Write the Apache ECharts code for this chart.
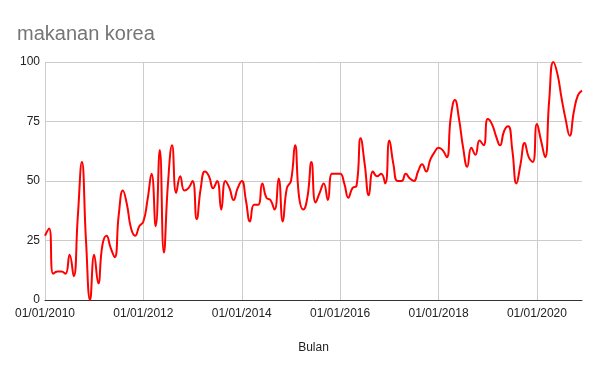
<!DOCTYPE html>
<html>
<head>
<meta charset="utf-8">
<script src="https://cdn.jsdelivr.net/npm/echarts@6/dist/echarts.min.js"></script>
<style>html,body{margin:0;padding:0;background:#fff}#c{width:600px;height:371px}</style>
</head>
<body>
<div id="c"></div>
<script>
const startYear = 2010;
const monthCount = 132;
const months = [];
for (let i = 0; i < monthCount; i++) {
  const y = startYear + Math.floor(i / 12);
  const m = String(i % 12 + 1).padStart(2, '0');
  months.push('01/' + m + '/' + y);
}
const values = [
  27, 30, 11, 12, 12, 11, 19, 10, 35, 58, 25, 0,
  19, 7, 23, 27, 22, 18, 36, 46, 40, 30, 27, 31,
  33, 42, 53, 31, 63, 20, 49, 65, 45, 52, 46, 47,
  50, 34, 47, 54, 52, 47, 50, 38, 50, 47, 42, 47,
  50, 42, 33, 40, 40, 49, 43, 42, 38, 51, 33, 47,
  50, 65, 43, 38, 43, 58, 41, 45, 49, 42, 53, 53,
  53, 49, 43, 47, 48, 68, 57, 44, 54, 52, 53, 49,
  67, 57, 50, 50, 53, 51, 50, 54, 57, 54, 59, 62,
  64, 63, 60, 77, 84, 76, 64, 56, 64, 61, 67, 65,
  76, 74, 69, 65, 71, 73, 63, 49, 57, 66, 60, 58,
  74, 67, 60, 84, 100, 95, 85, 76, 69, 79, 86, 88
];
const yTicks = [0, 25, 50, 75, 100];
const labelStep = 24;

const chart = echarts.init(document.getElementById('c'), null, {renderer: 'canvas'});
chart.setOption({
  animation: false,
  backgroundColor: '#ffffff',
  title: {
    text: 'makanan korea',
    left: 12, top: 19,
    textStyle: {fontFamily: 'Liberation Sans, Arial', fontSize: 20, fontWeight: 'normal', color: '#757575'}
  },
  grid: {left: 45, right: 18, top: 62, bottom: 71, containLabel: false},
  xAxis: {
    type: 'category',
    data: months,
    boundaryGap: false,
    name: 'Bulan',
    nameLocation: 'middle',
    nameGap: 42,
    nameTextStyle: {fontFamily: 'Liberation Sans, Arial', fontSize: 12, color: '#222'},
    axisLine: {lineStyle: {color: '#333', width: 1}},
    axisTick: {show: false},
    axisLabel: {
      interval: (i) => i % labelStep === 0,
      fontFamily: 'Liberation Sans, Arial', fontSize: 12, color: '#222', margin: 8
    },
    splitLine: {show: true, interval: (i) => i % labelStep === 0, lineStyle: {color: '#cccccc'}}
  },
  yAxis: {
    type: 'value',
    min: yTicks[0], max: yTicks[yTicks.length - 1], interval: 25,
    axisLine: {show: false},
    axisTick: {show: false},
    axisLabel: {fontFamily: 'Liberation Sans, Arial', fontSize: 12, color: '#222', margin: 5},
    splitLine: {lineStyle: {color: '#cccccc'}}
  },
  series: [{
    type: 'line',
    data: values,
    smooth: 0.5,
    showSymbol: false,
    symbol: 'none',
    lineStyle: {color: '#ff0000', width: 2},
    itemStyle: {color: '#ff0000'}
  }]
});
</script>
</body>
</html>
